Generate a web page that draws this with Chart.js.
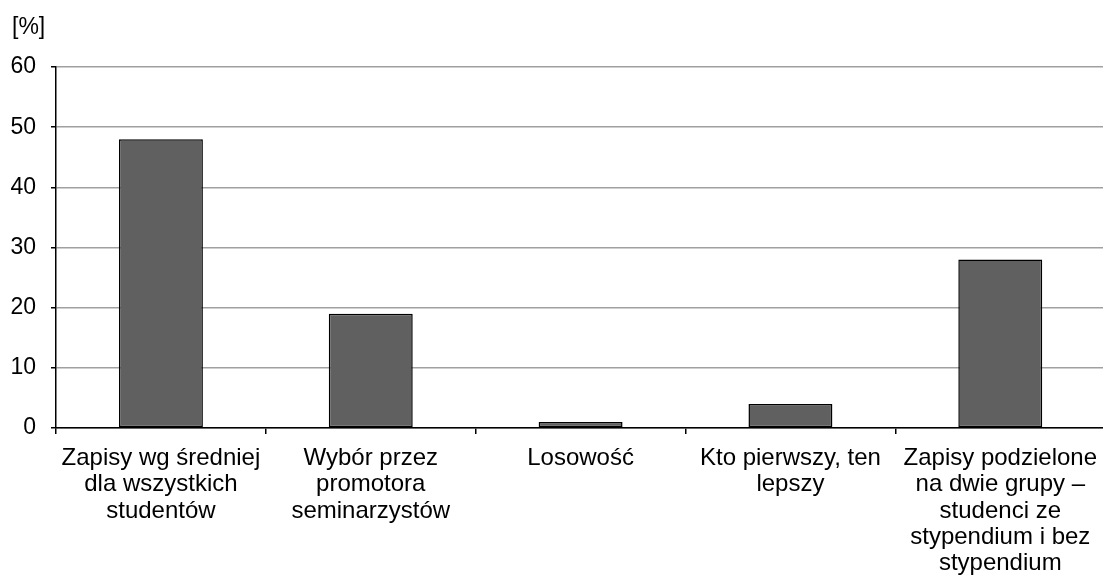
<!DOCTYPE html>
<html>
<head>
<meta charset="utf-8">
<script src="https://cdn.jsdelivr.net/npm/chart.js@4"></script>
<style>
  html, body { margin: 0; padding: 0; background: #fff; overflow: hidden; }
  #wrap { width: 1108px; height: 577px; }
</style>
</head>
<body>
<div id="wrap"><canvas id="barChart"></canvas></div>
<script>
var categories = [
    ['Zapisy wg średniej', 'dla wszystkich', 'studentów'],
    ['Wybór przez', 'promotora', 'seminarzystów'],
    ['Losowość'],
    ['Kto pierwszy, ten', 'lepszy'],
    ['Zapisy podzielone', 'na dwie grupy –', 'studenci ze', 'stypendium i bez', 'stypendium']
];
var values = [48, 19, 1, 4, 28];
var yTicks = [0, 10, 20, 30, 40, 50, 60];
var unitLabel = '[%]';

var family = 'Liberation Sans, Arial, sans-serif';

// "[%]" nad osia Y
var unitPlugin = {
    id: 'unitLabel',
    afterDraw: function (chart) {
        var ctx = chart.ctx;
        ctx.save();
        ctx.font = '23px ' + family;
        ctx.fillStyle = '#000';
        ctx.textBaseline = 'middle';
        ctx.fillText(unitLabel, 12, 28);
        ctx.restore();
    }
};

var barData = {
    labels: categories,
    datasets: [{
        data: values,
        backgroundColor: '#606060',
        borderColor: '#000',
        borderWidth: 1.5,
        borderSkipped: false,
        categoryPercentage: 0.4,
        barPercentage: 1
    }]
};

var barOptions = {
    responsive: true,
    maintainAspectRatio: false,
    animation: false,
    layout: { padding: { top: 67, left: 0, right: 0, bottom: 0 } },
    plugins: { legend: { display: false }, tooltip: { enabled: false } },
    scales: {
        x: {
            grid: { display: true, offset: true, drawOnChartArea: false, color: '#000', lineWidth: 1.5, tickLength: 6 },
            border: { color: '#000', width: 1.5 },
            ticks: { color: '#000', font: { family: family, size: 24, lineHeight: 1.1 }, maxRotation: 0, autoSkip: false, padding: 11 },
            afterFit: function (s) { s.height = 577 - 67 - 361; }
        },
        y: {
            min: 0, max: 60,
            afterBuildTicks: function (s) { s.ticks = yTicks.map(function (v) { return { value: v }; }); },
            grid: { color: '#a0a0a0', lineWidth: 1.5, tickLength: 5, tickColor: '#000' },
            border: { color: '#000', width: 1.5 },
            ticks: { color: '#000', font: { family: family, size: 23 }, padding: 15 },
            afterFit: function (s) { s.width = 56; }
        }
    }
};

var ctx2 = document.getElementById('barChart').getContext('2d');
new Chart(ctx2, { type: 'bar', data: barData, options: barOptions, plugins: [unitPlugin] });
</script>
</body>
</html>
